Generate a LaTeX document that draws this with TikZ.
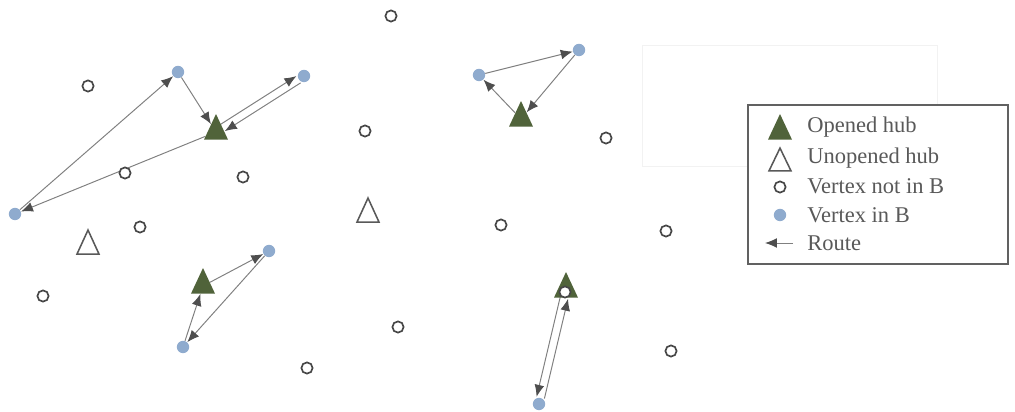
\documentclass[tikz,border=0pt]{standalone}
\usepackage{fontspec}
\setmainfont{Liberation Serif}
\usetikzlibrary{shapes.geometric,arrows.meta,backgrounds}
\definecolor{hubgreen}{RGB}{80,99,58}
\definecolor{vblue}{RGB}{143,171,206}
\definecolor{routegray}{RGB}{128,128,128}
\definecolor{tipgray}{RGB}{78,78,78}
\definecolor{txtgray}{RGB}{89,89,89}

\begin{document}
\begin{tikzpicture}[
  x=0.025cm, y=-0.025cm,
  hub/.style={isosceles triangle, shape border rotate=90, isosceles triangle stretches,
              minimum width=0.6cm, minimum height=0.64cm, inner sep=0pt, fill=hubgreen},
  closedhub/.style={isosceles triangle, shape border rotate=90, isosceles triangle stretches,
              minimum width=0.55cm, minimum height=0.6cm, inner sep=0pt,
              draw=txtgray, line width=1.1pt, fill=white},
  vtx/.style={circle, draw=black!72, line width=1.2pt, fill=white,
              minimum size=0.28cm, inner sep=0pt},
  bvtx/.style={circle, fill=vblue, minimum size=0.31cm, inner sep=0pt},
  route/.style={draw=routegray, line width=0.7pt,
                -{Latex[length=8.5pt,width=7pt,color=tipgray]}},
  legtext/.style={anchor=west, inner sep=0pt, text=txtgray,
                  font=\fontsize{16}{18}\selectfont}
]
  \useasboundingbox (0,0) rectangle (1015,412);

  % faint frame behind the legend
  \draw[black!5, line width=0.4pt] (642,45) rectangle (937,166);

  % hubs
  \node[hub] (h1) at (216,132) {};
  \node[hub] (h2) at (521,119) {};
  \node[hub] (h3) at (203,286) {};
  \node[hub] (h4) at (566,290) {};
  \node[closedhub] (u1) at (88,247) {};
  \node[closedhub] (u2) at (368,215) {};

  % vertices in B
  \node[bvtx] (b1) at (178,72) {};
  \node[bvtx] (b2) at (304,76) {};
  \node[bvtx] (b3) at (15,214) {};
  \node[bvtx] (b4) at (479,75) {};
  \node[bvtx] (b5) at (579,50) {};
  \node[bvtx] (b6) at (269,251) {};
  \node[bvtx] (b7) at (183,347) {};
  \node[bvtx] (b8) at (539,404) {};

  % vertices not in B
  \node[vtx] (v1)  at (391,16) {};
  \node[vtx] (v2)  at (88,86) {};
  \node[vtx] (v3)  at (365,131) {};
  \node[vtx] (v4)  at (606,138) {};
  \node[vtx] (v5)  at (125,173) {};
  \node[vtx] (v6)  at (243,177) {};
  \node[vtx] (v7)  at (140,227) {};
  \node[vtx] (v8)  at (501,225) {};
  \node[vtx] (v9)  at (666,231) {};
  \node[vtx] (v10) at (43,296) {};
  \node[vtx] (v11) at (398,327) {};
  \node[vtx] (v12) at (671,351) {};
  \node[vtx] (v13) at (307,368) {};
  \node[vtx] (v14) at (565,292) {};

  % routes
  \begin{scope}[on background layer]
    \draw[route] (b3) -- (b1);
    \draw[route] (b1) -- (h1);
    \draw[route, transform canvas={shift={(-2.1,-3.4)}}] (h1) -- (b2);
    \draw[route, transform canvas={shift={(2.1,3.4)}}] (b2) -- (h1);
    \draw[route] (h1) -- (b3);

    \draw[route] (h2) -- (b4);
    \draw[route] (b4) -- (b5);
    \draw[route] (b5) -- (h2);

    \draw[route] (b7) -- (h3);
    \draw[route] (h3) -- (b6);
    \draw[route] (b6) -- (b7);

    \draw[route, transform canvas={shift={(-3.9,-0.9)}}] (h4) -- (b8);
    \draw[route, transform canvas={shift={(3.9,0.9)}}] (b8) -- (h4);
  \end{scope}

  % legend
  \draw[black!62, line width=1.2pt, fill=white] (748,105) rectangle (1008,264);
  \node[hub] (lh) at (780,132) {};
  \node[closedhub, minimum height=0.57cm] (lu) at (780,164) {};
  \node[vtx] (lv) at (780,187) {};
  \node[bvtx] (lb) at (780,215) {};
  \coordinate (lrs) at (793,243);
  \coordinate (lre) at (765,243);
  \draw[route] (lrs) -- (lre);
  \node[legtext] (t1) at (807,127) {Opened hub};
  \node[legtext] (t2) at (807,158) {Unopened hub};
  \node[legtext] (t3) at (807,186) {Vertex not in B};
  \node[legtext] (t4) at (807,215) {Vertex in B};
  \node[legtext] (t5) at (807,243) {Route};
\end{tikzpicture}
\end{document}
